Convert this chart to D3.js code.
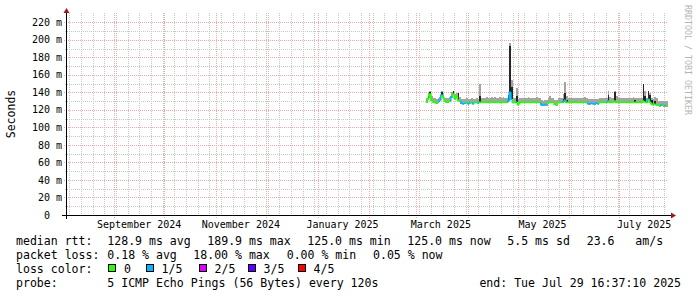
<!DOCTYPE html>
<html>
<head>
<meta charset="utf-8">
<script src="https://cdn.jsdelivr.net/npm/d3@7"></script>
<style>
  body { margin: 0; background: #fff; }
  text { font-family: "DejaVu Sans Mono", monospace; fill: #000; }
</style>
</head>
<body>
<script>
// time window of the graph
const endTime = new Date(2025, 6, 29, 16, 37, 10);
const startTime = d3.timeDay.offset(endTime, -360);
const firstDay = new Date(2025, 2, 7);   // first day with data

// daily median rtt (ms), from firstDay onwards
const median = [
  129, 133, 138, 131, 129, 128.5, 128, 129, 131, 137,
  134, 130, 129, 129, 130, 135, 138, 133, 135, 131,
  130, 127.5, 127, 127.5, 128.5, 127, 127.5, 128.5, 127, 128.5,
  128.5, 128, 128.5, 128.5, 129, 128.5, 129, 128.5, 129, 128.5,
  129, 128.5, 128.5, 129, 128.5, 128.5, 129, 128.5, 128.5, 130,
  140, 132, 128.5, 128.5, 129, 126, 128.5, 128.5, 129, 128.5,
  128.5, 129, 128.5, 128.5, 129, 128.5, 128.5, 129, 128.5, 126,
  125.5, 126, 126, 128, 128.5, 128.5, 128.5, 126.5, 126, 128.5,
  128.5, 128.5, 129, 131, 128.5, 128.5, 129, 128.5, 128.5, 129,
  128.5, 128.5, 129, 128.5, 128.5, 129, 128.5, 127, 127, 127.5,
  127, 127, 127.5, 127, 128.5, 128.5, 129, 128.5, 128.5, 130,
  128.5, 128.5, 128.5, 130, 128.5, 128.5, 129, 128.5, 128.5, 129,
  128.5, 128.5, 129, 128.5, 128.5, 128.5, 128.5, 128.5, 129, 128.5,
  130, 129, 128.5, 132, 129, 127, 126, 126.5, 126, 125.5,
  125, 125.5, 125, 125, 125
];

// daily highest ping (top of the smoke), ms
const smokeTop = [
  134, 139, 142, 136, 134, 133, 132.5, 134, 135, 141,
  139, 134, 133, 134, 135, 140, 141, 138, 139, 136,
  135, 132, 132, 132.5, 133, 132, 132.5, 133, 132, 132.5,
  133, 132.5, 149, 133, 134, 133, 135, 134, 133, 134.5,
  133.5, 135, 134, 133, 134.5, 133, 135, 134, 133.5, 137,
  196, 154, 134, 133.5, 145, 132, 133, 134, 133.5, 134,
  133, 134.5, 133.5, 133, 134, 133.5, 135, 134, 133, 131,
  130.5, 131.5, 131, 134, 136, 133.5, 133, 131, 131, 133.5,
  134, 133.5, 138, 152, 136, 133.5, 134, 133, 134, 133.5,
  134, 133, 133.5, 134, 133, 134.5, 133, 132, 132, 132.5,
  132, 132, 132.5, 132, 133.5, 134, 133.5, 133, 134, 141,
  135, 133.5, 134, 141, 136, 133.5, 134, 133, 133.5, 134,
  133, 133.5, 134, 133, 135, 133.5, 134, 133, 134, 133.5,
  150, 141, 134, 142, 139, 133, 132, 135, 134, 130.5,
  130, 130.5, 130, 130.5, 130
];

// daily loss level (index into lossLabels)
const loss = [
  0, 0, 0, 0, 0, 0, 0, 0, 1, 1,
  0, 0, 0, 0, 0, 1, 0, 0, 0, 0,
  0, 1, 1, 1, 0, 1, 1, 0, 1, 0,
  0, 1, 0, 0, 0, 0, 0, 0, 0, 0,
  0, 0, 0, 0, 0, 0, 0, 0, 0, 1,
  1, 1, 0, 0, 1, 0, 0, 0, 0, 0,
  0, 0, 0, 0, 0, 0, 0, 0, 0, 1,
  1, 1, 1, 0, 0, 0, 0, 0, 0, 0,
  0, 0, 1, 1, 0, 0, 0, 0, 0, 0,
  0, 0, 0, 0, 0, 0, 0, 1, 1, 1,
  1, 1, 1, 1, 0, 0, 0, 0, 0, 1,
  0, 0, 0, 0, 0, 0, 0, 0, 0, 0,
  0, 0, 0, 0, 0, 0, 0, 0, 0, 0,
  0, 0, 0, 1, 0, 0, 0, 0, 0, 0,
  0, 1, 0, 1, 0
];

// days where the inner (dark) smoke rises above the median
const spikeDays = [1, 2, 9, 16, 19, 32, 49, 50, 51, 54, 82, 83, 84, 109, 113, 125, 130, 131, 133, 134, 135, 137];
const spikeTops = [136, 140, 140, 141, 139, 136, 137, 193, 146, 136, 132, 139, 131, 137, 140, 131, 149, 136, 142, 137, 131, 130];

const lossLabels = ["0", "1/5", "2/5", "3/5", "4/5"];
const lossColors = ["#26ff00", "#00b8ff", "#dd00ff", "#5e00ff", "#ff0000"];

const yTicks = d3.range(0, 221, 20);
const yMinor = d3.range(10, 221, 20);
const xLabelDates = [new Date(2024, 8, 16), new Date(2024, 10, 16), new Date(2025, 0, 16),
                     new Date(2025, 2, 16), new Date(2025, 4, 16), new Date(2025, 6, 16)];

const statsRtt  = [[107.3, "128.9 ms avg"], [207.3, "189.9 ms max"], [307.3, "125.0 ms min"],
                   [407.3, "125.0 ms now"], [507.3, "5.5 ms sd"], [586.7, "23.6   am/s"]];
const statsLoss = [[107.3, "0.18 % avg"], [193.3, "18.00 % max"], [286.7, "0.00 % min"], [373, "0.05 % now"]];
const lossBoxX = [108.5, 146, 199, 248, 298];

const W = 697, H = 297;
const svg = d3.select("body").append("svg")
    .attr("width", W)
    .attr("height", H);

const x = d3.scaleTime().domain([startTime, endTime]).range([67, 667]);
const y = d3.scaleLinear().domain([0, 230]).range([215, 13.5]);
const px = v => Math.round(v) + 0.5;

// grid
const grid = svg.append("g").attr("shape-rendering", "crispEdges");
const minorCol = "#c6c6c6", majorCol = "#eeaaaa";

grid.selectAll(".vmin").data(d3.timeMonday.range(startTime, endTime))
  .enter().append("line")
    .attr("x1", d => px(x(d))).attr("x2", d => px(x(d)))
    .attr("y1", 13).attr("y2", 217)
    .attr("stroke", minorCol).attr("stroke-dasharray", "1,1");

grid.selectAll(".hmin").data(yMinor)
  .enter().append("line")
    .attr("x1", 65).attr("x2", 667)
    .attr("y1", d => px(y(d))).attr("y2", d => px(y(d)))
    .attr("stroke", minorCol).attr("stroke-dasharray", "1,1");

grid.selectAll(".vmaj").data(d3.timeMonth.range(startTime, endTime))
  .enter().append("line")
    .attr("x1", d => px(x(d))).attr("x2", d => px(x(d)))
    .attr("y1", 13).attr("y2", 218)
    .attr("stroke", majorCol).attr("stroke-dasharray", "1,1");

grid.selectAll(".hmaj").data(yTicks.slice(1))
  .enter().append("line")
    .attr("x1", 64).attr("x2", 667)
    .attr("y1", d => px(y(d))).attr("y2", d => px(y(d)))
    .attr("stroke", majorCol).attr("stroke-dasharray", "1,1");

// smoke
const binX = i => x(d3.timeDay.offset(firstDay, i));
const data = svg.append("g").attr("shape-rendering", "crispEdges");

data.selectAll(".smoke").data(median)
  .enter().append("rect")
    .attr("x", (d, i) => binX(i))
    .attr("width", (d, i) => binX(i + 1) - binX(i) + 0.3)
    .attr("y", (d, i) => y(smokeTop[i]))
    .attr("height", (d, i) => y(d - 1.2) - y(smokeTop[i]))
    .attr("fill", "#a4a4a4");

data.selectAll(".dark").data(spikeDays)
  .enter().append("rect")
    .attr("x", d => binX(d))
    .attr("width", d => binX(d + 1) - binX(d) + 0.3)
    .attr("y", (d, k) => y(spikeTops[k]))
    .attr("height", (d, k) => y(median[d]) - y(spikeTops[k]))
    .attr("fill", "#262626");

// median line coloured by loss
svg.append("g").selectAll(".med").data(median)
  .enter().append("path")
    .attr("d", (d, i) => {
      const prev = i > 0 ? median[i - 1] : d;
      return `M${binX(i)},${y(prev)}V${y(d)}H${binX(i + 1)}`;
    })
    .attr("fill", "none")
    .attr("stroke", (d, i) => lossColors[loss[i]])
    .attr("stroke-width", 1.6);

// axes
const axes = svg.append("g").attr("shape-rendering", "crispEdges");
axes.append("line").attr("x1", 62).attr("x2", 671).attr("y1", 215.5).attr("y2", 215.5).attr("stroke", "#000");
axes.append("line").attr("x1", 66.5).attr("x2", 66.5).attr("y1", 219).attr("y2", 12).attr("stroke", "#000");
svg.append("path").attr("d", "M671,212.5L676,215.5L671,218.5Z").attr("fill", "#a01818");
svg.append("path").attr("d", "M63.5,13L66.5,8L69.5,13Z").attr("fill", "#a01818");

svg.append("g").selectAll("text").data(yTicks)
  .enter().append("text")
    .attr("x", d => d === 0 ? 50 : 62)
    .attr("y", d => y(d) + 3.6)
    .attr("text-anchor", "end")
    .style("font-size", "10px")
    .text(d => d === 0 ? "0" : d + " m");

svg.append("g").selectAll("text").data(xLabelDates)
  .enter().append("text")
    .attr("x", d => x(d))
    .attr("y", 228)
    .attr("text-anchor", "middle")
    .style("font-size", "10px")
    .text(d3.timeFormat("%B %Y"));

svg.append("text")
    .attr("transform", "translate(15,114) rotate(-90)")
    .attr("text-anchor", "middle")
    .style("font-size", "11.5px")
    .text("Seconds");

svg.append("text")
    .attr("transform", "translate(685,5) rotate(90)")
    .style("font-size", "8.3px")
    .style("fill", "#b4b4b4")
    .text("RRDTOOL / TOBI OETIKER");

// legend
const fs = "11.55px";
const legend = svg.append("g").style("font-size", fs);
const row = (yy, items) => items.forEach(([xx, t]) =>
  legend.append("text").attr("x", xx).attr("y", yy).style("white-space", "pre").text(t));

row(245, [[16, "median rtt:"]].concat(statsRtt));
row(259, [[16, "packet loss:"]].concat(statsLoss));
row(273, [[16, "loss color:"]]);
row(287, [[16, "probe:"], [107.3, "5 ICMP Echo Pings (56 Bytes) every 120s"]]);
legend.append("text").attr("x", 681).attr("y", 287).attr("text-anchor", "end")
    .text("end: Tue Jul 29 16:37:10 2025");

lossLabels.forEach((lab, i) => {
  legend.append("rect")
      .attr("x", lossBoxX[i]).attr("y", 264.5)
      .attr("width", 7).attr("height", 7)
      .attr("fill", lossColors[i]).attr("stroke", "#000")
      .attr("shape-rendering", "crispEdges");
  legend.append("text").attr("x", lossBoxX[i] + 15.5).attr("y", 273).text(lab);
});
</script>
</body>
</html>
